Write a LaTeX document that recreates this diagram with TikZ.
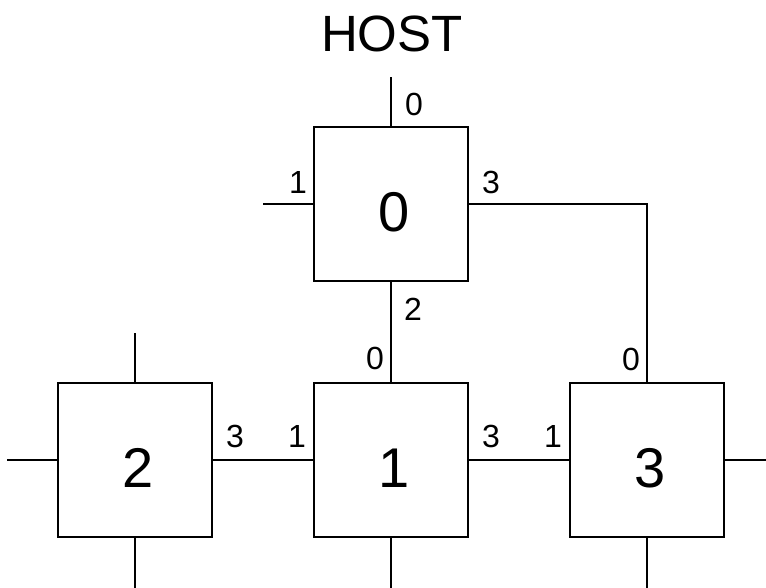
\documentclass[tikz,border=0pt]{standalone}
\usepackage{fontspec}
\setmainfont{Liberation Sans}
\begin{document}
\begin{tikzpicture}[x=1pt,y=-1pt,
  line width=2pt,
  router/.style={draw, rectangle, minimum size=154pt, inner sep=0pt},
  bignum/.style={font=\fontsize{56}{60}\selectfont, inner sep=0pt},
  port/.style={font=\fontsize{32}{36}\selectfont, inner sep=0pt},
  hosttext/.style={font=\fontsize{51}{56}\selectfont, inner sep=0pt}]
\useasboundingbox (0,0) rectangle (766,587);

\node[hosttext] (host) at (392,33.5) {HOST};

\node[router, label={[bignum, xshift=3pt, yshift=-8pt]center:0}] (b0) at (391,204) {};
\node[router, label={[bignum, xshift=3pt, yshift=-8pt]center:1}] (b1) at (391,460) {};
\node[router, label={[bignum, xshift=3pt, yshift=-8pt]center:2}] (b2) at (135,460) {};
\node[router, label={[bignum, xshift=3pt, yshift=-8pt]center:3}] (b3) at (647,460) {};

\coordinate (t0) at (391,77);
\coordinate (w0) at (263,204);
\coordinate (t2) at (135,333);
\coordinate (w2) at (7,460);
\coordinate (e3) at (770,460);
\coordinate (s2) at (135,590);
\coordinate (s1) at (391,590);
\coordinate (s3) at (647,590);

\draw (b0.north) -- (t0);
\draw (b0.west) -- (w0);
\draw (b0.east) -| (b3.north);
\draw (b0.south) -- (b1.north);
\draw (b2.north) -- (t2);
\draw (b2.west) -- (w2);
\draw (b2.east) -- (b1.west);
\draw (b1.east) -- (b3.west);
\draw (b3.east) -- (e3);
\draw (b2.south) -- (s2);
\draw (b1.south) -- (s1);
\draw (b3.south) -- (s3);

\node[port] (p00) at (414,104) {0};
\node[port] (p01) at (298,182) {1};
\node[port] (p03) at (491,182) {3};
\node[port] (p02) at (413,309) {2};
\node[port] (p10) at (375,358) {0};
\node[port] (p30) at (631,359) {0};
\node[port] (p23) at (235,436) {3};
\node[port] (p11) at (297,436) {1};
\node[port] (p13) at (491,436) {3};
\node[port] (p31) at (553,436) {1};
\end{tikzpicture}
\end{document}
